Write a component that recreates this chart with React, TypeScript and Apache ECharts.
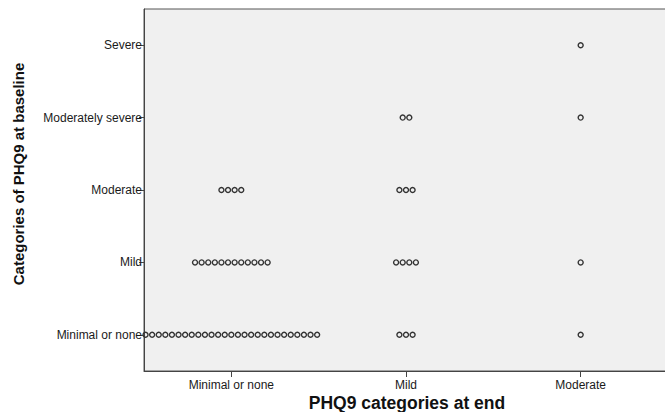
import React, { useEffect, useRef } from "react";
import * as echarts from "echarts";

// PHQ9 category at the end of follow-up (x) vs. at baseline (y)
const endCategories = ["Minimal or none", "Mild", "Moderate"];
const baselineCategories = ["Minimal or none", "Mild", "Moderate", "Moderately severe", "Severe"];

// Number of patients per baseline category, one array per end category
const minimalAtEndCounts = [27, 12, 4, 0, 0];
const mildAtEndCounts = [3, 4, 3, 2, 0];
const moderateAtEndCounts = [1, 1, 0, 1, 1];

const countsByEnd = [minimalAtEndCounts, mildAtEndCounts, moderateAtEndCounts];

const FONT = "'Liberation Sans', Arial, sans-serif";

export default function App() {
  const ref = useRef<HTMLDivElement>(null);

  useEffect(() => {
    if (!ref.current) return;
    const chart = echarts.init(ref.current, null, { renderer: "svg" });

    const cells: number[][] = [];
    countsByEnd.forEach((col, xi) => {
      col.forEach((n, yi) => {
        if (n > 0) cells.push([xi, yi, n]);
      });
    });

    const dotStep = 6.6;
    const dotR = 2.5;

    chart.setOption({
      animation: false,
      backgroundColor: "#ffffff",
      grid: {
        left: 144,
        top: 9,
        right: 12,
        height: 362,
        show: true,
        backgroundColor: "#f0f0f0",
        borderColor: "#555555",
        borderWidth: 1,
      },
      xAxis: {
        type: "category",
        data: endCategories,
        boundaryGap: true,
        axisLine: { show: true, lineStyle: { color: "#444444", width: 1 } },
        axisTick: { show: true, alignWithLabel: true, length: 6, lineStyle: { color: "#444444" } },
        axisLabel: { color: "#1a1a1a", fontFamily: FONT, fontSize: 12, margin: 8 },
        splitLine: { show: false },
      },
      yAxis: {
        type: "category",
        data: baselineCategories,
        boundaryGap: true,
        axisLine: { show: true, lineStyle: { color: "#444444", width: 1 } },
        axisTick: { show: true, alignWithLabel: true, length: 5, lineStyle: { color: "#444444" } },
        axisLabel: { color: "#1a1a1a", fontFamily: FONT, fontSize: 12, margin: 2 },
        splitLine: { show: false },
      },
      graphic: [
        {
          type: "text",
          x: 407,
          y: 403,
          style: {
            text: "PHQ9 categories at end",
            font: `bold 17.5px ${FONT}`,
            fill: "#111111",
            textAlign: "center",
            textVerticalAlign: "middle",
          },
        },
        {
          type: "text",
          x: 18,
          y: 174,
          rotation: Math.PI / 2,
          style: {
            text: "Categories of PHQ9 at baseline",
            font: `bold 15px ${FONT}`,
            fill: "#111111",
            textAlign: "center",
            textVerticalAlign: "middle",
          },
        },
      ],
      series: [
        {
          type: "custom",
          data: cells,
          encode: { x: 0, y: 1 },
          renderItem: (params: any, api: any) => {
            const center = api.coord([api.value(0), api.value(1)]);
            const n = api.value(2) as number;
            const children = [];
            for (let k = 0; k < n; k++) {
              children.push({
                type: "circle",
                shape: { cx: center[0] + (k - (n - 1) / 2) * dotStep, cy: center[1], r: dotR },
                style: { fill: "none", stroke: "#333333", lineWidth: 1.4 },
              });
            }
            return { type: "group", children };
          },
        },
      ],
    });

    return () => chart.dispose();
  }, []);

  // The plot frame runs past the right edge of the window, so the chart is wider than the view
  return (
    <div
      ref={ref}
      style={{ position: "fixed", left: 0, top: 0, width: 680, height: 412 }}
    />
  );
}
